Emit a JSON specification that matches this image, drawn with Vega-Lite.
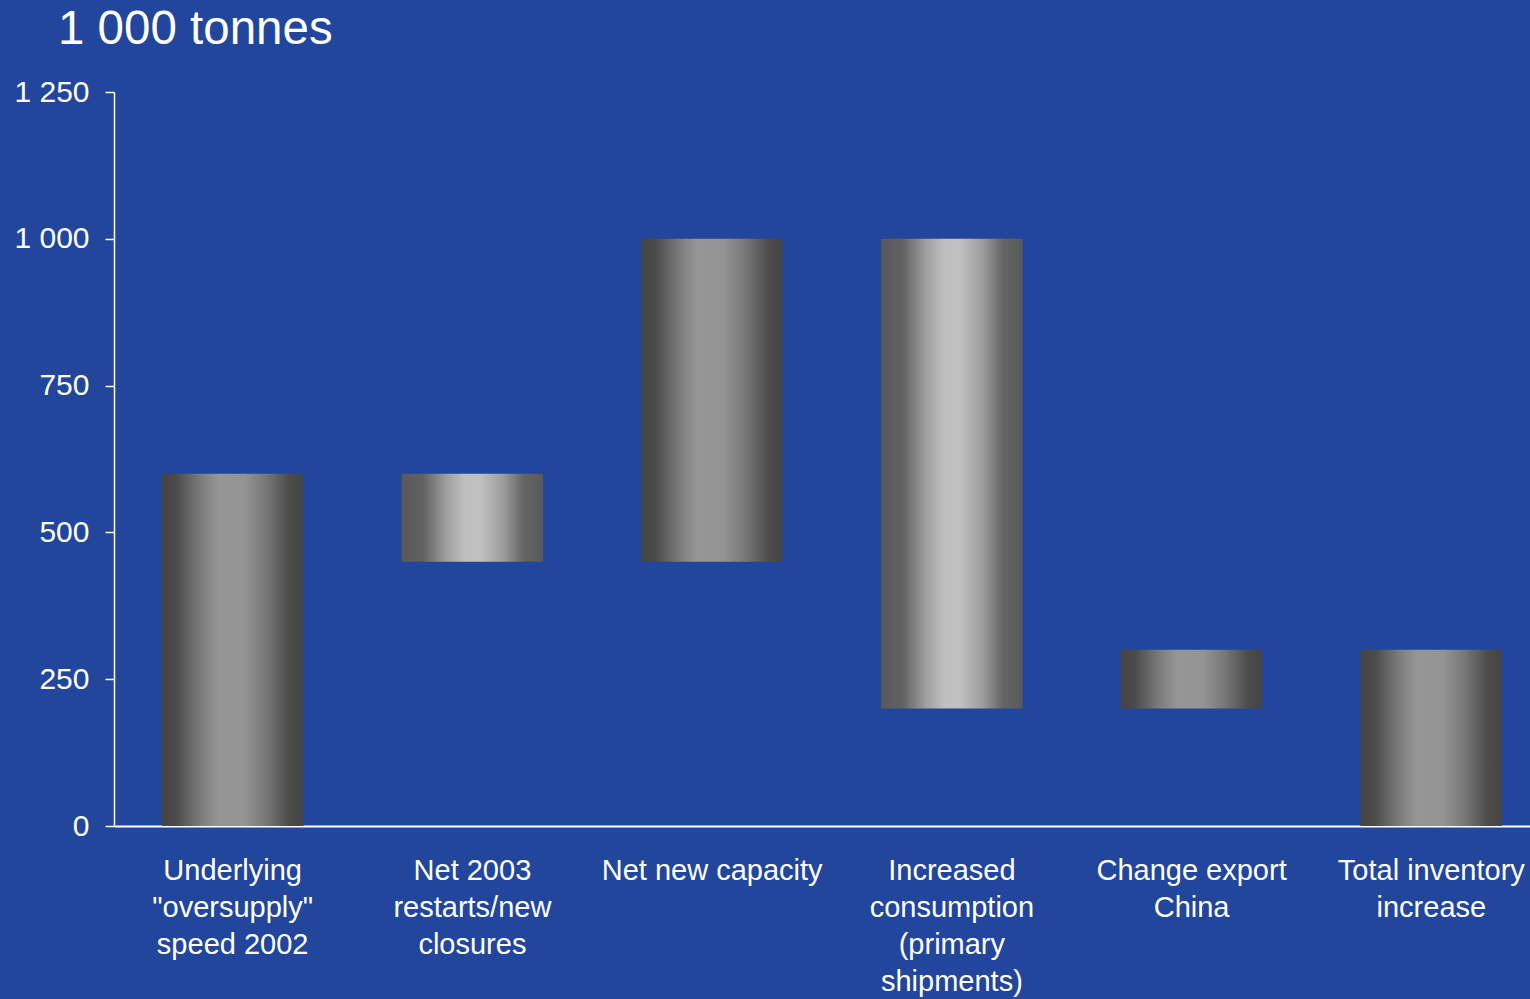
{
  "$schema": "https://vega.github.io/schema/vega-lite/v6.json",
  "autosize": {"type": "none"},
  "width": 1436,
  "height": 734,
  "padding": {"left": 114, "top": 92, "right": -20, "bottom": 173},
  "background": "#22469c",
  "title": {
    "text": "1 000 tonnes",
    "anchor": "start",
    "frame": "group",
    "font": "Liberation Sans",
    "fontSize": 47.5,
    "fontWeight": "normal",
    "color": "white",
    "dx": -56,
    "offset": 24
  },
  "data": {
    "values": [
      {"label": "Underlying\n\"oversupply\"\nspeed 2002", "start": 0, "end": 600, "tone": "dark"},
      {"label": "Net 2003\nrestarts/new\nclosures", "start": 450, "end": 600, "tone": "light"},
      {"label": "Net new capacity", "start": 450, "end": 1000, "tone": "dark"},
      {"label": "Increased\nconsumption\n(primary\nshipments)", "start": 200, "end": 1000, "tone": "light"},
      {"label": "Change export\nChina", "start": 200, "end": 300, "tone": "dark"},
      {"label": "Total inventory\nincrease", "start": 0, "end": 300, "tone": "dark"}
    ]
  },
  "mark": {"type": "bar"},
  "encoding": {
    "x": {
      "field": "label",
      "type": "nominal",
      "sort": null,
      "scale": {"paddingInner": 0.41, "paddingOuter": 0.2},
      "axis": {
        "title": null,
        "labelAngle": 0,
        "labelExpr": "split(datum.value, '\\n')",
        "labelFont": "Liberation Sans",
        "labelFontSize": 29,
        "labelLineHeight": 37,
        "labelColor": "white",
        "labelPadding": 30,
        "labelLimit": 0,
        "ticks": false,
        "domainColor": "white",
        "domainWidth": 2,
        "grid": false
      }
    },
    "y": {
      "field": "start",
      "type": "quantitative",
      "scale": {"domain": [0, 1250], "nice": false},
      "axis": {
        "title": null,
        "values": [0, 250, 500, 750, 1000, 1250],
        "labelExpr": "replace(format(datum.value, ','), ',', ' ')",
        "labelFont": "Liberation Sans",
        "labelFontSize": 30,
        "labelColor": "white",
        "labelPadding": 16,
        "tickColor": "white",
        "tickSize": 9,
        "tickWidth": 1.5,
        "domainColor": "white",
        "domainWidth": 1.5,
        "grid": false
      }
    },
    "y2": {"field": "end"},
    "color": {
      "condition": {
        "test": "datum.tone === 'light'",
        "value": {
          "gradient": "linear", "x1": 0, "x2": 1, "y1": 0, "y2": 0,
          "stops": [
            {"offset": 0, "color": "#595959"},
            {"offset": 0.15, "color": "#616161"},
            {"offset": 0.32, "color": "#a0a0a0"},
            {"offset": 0.45, "color": "#c0c0c0"},
            {"offset": 0.56, "color": "#c0c0c0"},
            {"offset": 0.72, "color": "#9c9c9c"},
            {"offset": 0.86, "color": "#656565"},
            {"offset": 1, "color": "#595959"}
          ]
        }
      },
      "value": {
        "gradient": "linear", "x1": 0, "x2": 1, "y1": 0, "y2": 0,
        "stops": [
          {"offset": 0, "color": "#444444"},
          {"offset": 0.1, "color": "#4b4b4b"},
          {"offset": 0.28, "color": "#7e7e7e"},
          {"offset": 0.4, "color": "#969696"},
          {"offset": 0.58, "color": "#949494"},
          {"offset": 0.74, "color": "#767676"},
          {"offset": 0.9, "color": "#4c4c4c"},
          {"offset": 1, "color": "#444444"}
        ]
      }
    }
  },
  "config": {"view": {"stroke": null}}
}
